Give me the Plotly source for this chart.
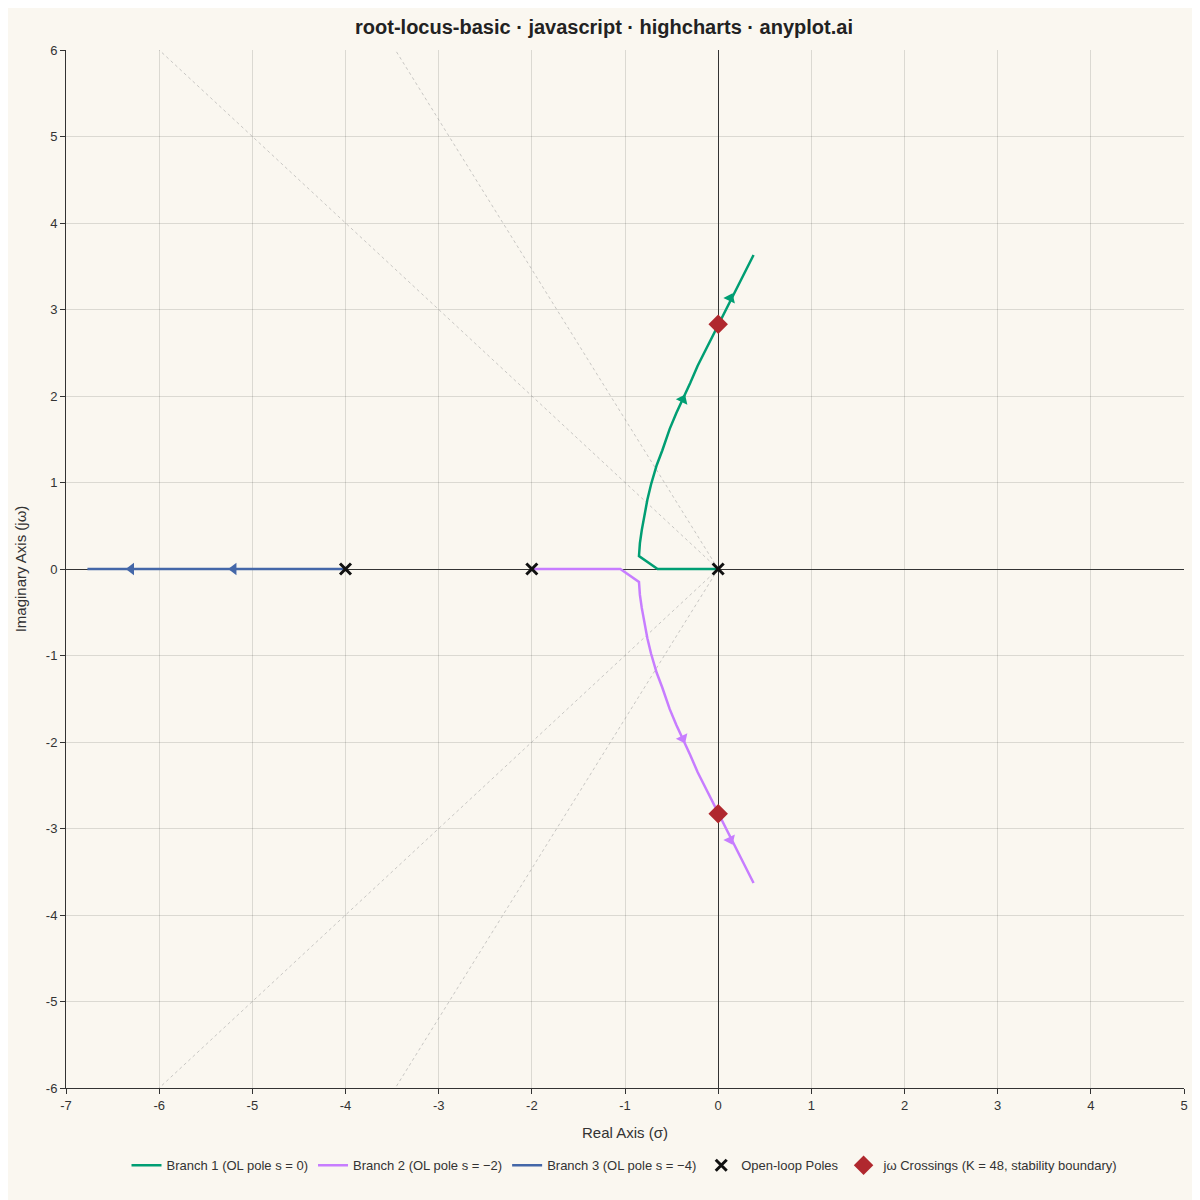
import plotly.graph_objects as go

b1_x = [0.0, -0.65, -0.85, -0.84, -0.82, -0.80, -0.76, -0.72, -0.66, -0.60, -0.52, -0.45, -0.38, -0.30, -0.22, -0.15, -0.07, 0.0, 0.07, 0.15, 0.26, 0.38]
b1_y = [0.0, 0.0, 0.15, 0.30, 0.45, 0.57, 0.80, 0.98, 1.20, 1.37, 1.62, 1.80, 1.96, 2.15, 2.35, 2.50, 2.67, 2.83, 2.98, 3.15, 3.38, 3.63]
b2_x = [-2.0, -1.05, -0.85] + b1_x[3:]
b2_y = [0.0, 0.0, -0.15] + [-v for v in b1_y[3:]]
b3_x = [-4.0, -5.2, -6.3, -6.77]
b3_y = [0.0, 0.0, 0.0, 0.0]
arrow1 = ([-0.38, 0.13], [1.96, 3.13])
arrow2 = ([-0.38, 0.13], [-1.96, -3.13])
arrow3 = ([-5.2, -6.3], [0.0, 0.0])
poles_x = [0, -2, -4]
poles_y = [0, 0, 0]
cross_x = [0, 0]
cross_y = [2.83, -2.83]
zeta_x = [-8, -4.62]
zeta_y = [8, 8]
xticks = list(range(-7, 6))
yticks = list(range(-6, 7))

fig = go.Figure()
for zx, zy in zip(zeta_x, zeta_y):
    for s in (1, -1):
        fig.add_trace(go.Scatter(x=[0, zx], y=[0, s * zy], mode="lines", showlegend=False, hoverinfo="skip",
                                 line=dict(color="rgba(150,150,150,0.5)", width=1, dash="dot")))

def branch(x, y, ax, ay, color, name, angle):
    fig.add_trace(go.Scatter(x=x, y=y, mode="lines", name=name, line=dict(color=color, width=2.5)))
    fig.add_trace(go.Scatter(x=ax, y=ay, mode="markers", showlegend=False,
                             marker=dict(symbol="triangle-up", size=11, color=color, angle=angle)))

branch(b1_x, b1_y, *arrow1, "#009E73", "Branch 1 (OL pole s = 0)", [25, 25])
branch(b2_x, b2_y, *arrow2, "#C77DFF", "Branch 2 (OL pole s = −2)", [155, 155])
branch(b3_x, b3_y, *arrow3, "#4467A8", "Branch 3 (OL pole s = −4)", [-90, -90])
fig.add_trace(go.Scatter(x=poles_x, y=poles_y, mode="markers", name="Open-loop Poles",
                         marker=dict(symbol="x-thin", size=11, color="#111", line=dict(width=3, color="#111"))))
fig.add_trace(go.Scatter(x=cross_x, y=cross_y, mode="markers", name="jω Crossings (K = 48, stability boundary)",
                         marker=dict(symbol="diamond", size=15, color="#B0282E")))

ax = dict(showgrid=True, gridcolor="rgba(0,0,0,0.12)", zeroline=True, zerolinecolor="#333", zerolinewidth=1,
          showline=True, linecolor="#333", ticks="outside", tickcolor="#333",
          tickfont=dict(size=13, color="#333"), title_font=dict(size=15, color="#333"))
fig.update_xaxes(range=[-7, 5], title_text="Real Axis (σ)", tickvals=xticks, ticktext=[str(v) for v in xticks], **ax)
fig.update_yaxes(range=[-6, 6], title_text="Imaginary Axis (jω)", tickvals=yticks, ticktext=[str(v) for v in yticks], **ax)
fig.update_layout(
    width=1192, height=1192, paper_bgcolor="#FAF7F0", plot_bgcolor="#FAF7F0",
    font=dict(family="Liberation Sans, Arial", color="#333"),
    title=dict(text="<b>root-locus-basic · javascript · highcharts · anyplot.ai</b>", x=0.5, xanchor="center",
               y=0.99, yanchor="top", font=dict(size=20, color="#222")),
    margin=dict(l=57, r=12, t=42, b=112),
    legend=dict(orientation="h", x=0.5, xanchor="center", y=-0.06, yanchor="top", font=dict(size=13)),
)
fig.write_html("out.html")
